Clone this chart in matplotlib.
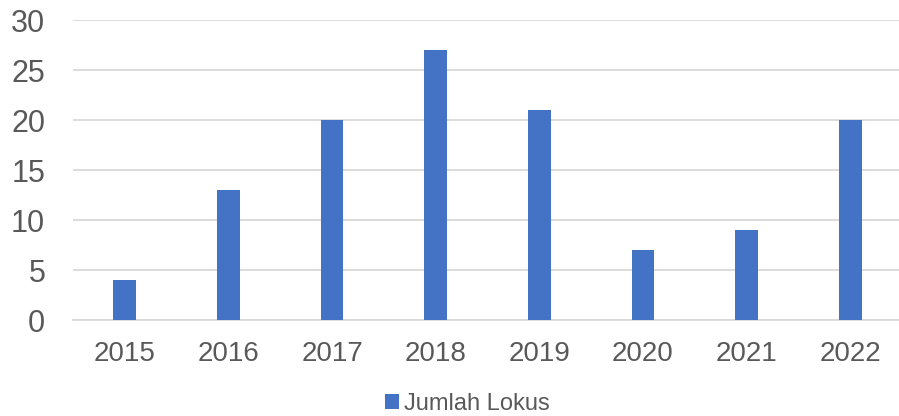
import matplotlib
matplotlib.use("Agg")
import matplotlib.pyplot as plt
from matplotlib.patches import Patch

years = ["2015", "2016", "2017", "2018", "2019", "2020", "2021", "2022"]
jumlah_lokus = [4, 13, 20, 27, 21, 7, 9, 20]
yticks = [0, 5, 10, 15, 20, 25, 30]

plt.rcParams['font.family'] = ['Liberation Sans', 'DejaVu Sans']
W, H = 899, 416
fig = plt.figure(figsize=(W/100, H/100), dpi=100)
left, right, top, bottom = 73, 899, 20, 320
ax = fig.add_axes([left/W, 1 - bottom/H, (right-left)/W, (bottom-top)/H])

bar_color = "#4472C4"
text_color = "#595959"
grid_color = "#D9D9D9"

x = range(len(years))
ax.bar(x, jumlah_lokus, width=0.22, color=bar_color, zorder=3)
ax.set_xlim(-0.5, 7.5 - 3/103.6)
ax.set_ylim(0, 30)
ax.set_yticks(yticks)
ax.set_xticks(list(x))
ax.set_xticklabels(years)
ax.yaxis.grid(True, color=grid_color, linewidth=1.3, zorder=0)
ax.set_axisbelow(True)
for s in ["top", "right", "left"]:
    ax.spines[s].set_visible(False)
ax.spines["bottom"].set_color(grid_color)
ax.spines["bottom"].set_linewidth(1.3)
ax.tick_params(axis="y", length=0, pad=20, labelsize=22, labelcolor=text_color)
ax.tick_params(axis="x", length=0, pad=15, labelsize=20, labelcolor=text_color)

handles = [Patch(facecolor=bar_color, edgecolor="none", label="Jumlah Lokus")]
fig.legend(handles=handles, loc="center", bbox_to_anchor=(467/W, 1 - 404/H),
           frameon=False, fontsize=17, labelcolor=text_color,
           handlelength=0.6, handleheight=0.6, handletextpad=0.2)

fig.savefig("out.png", dpi=100)
